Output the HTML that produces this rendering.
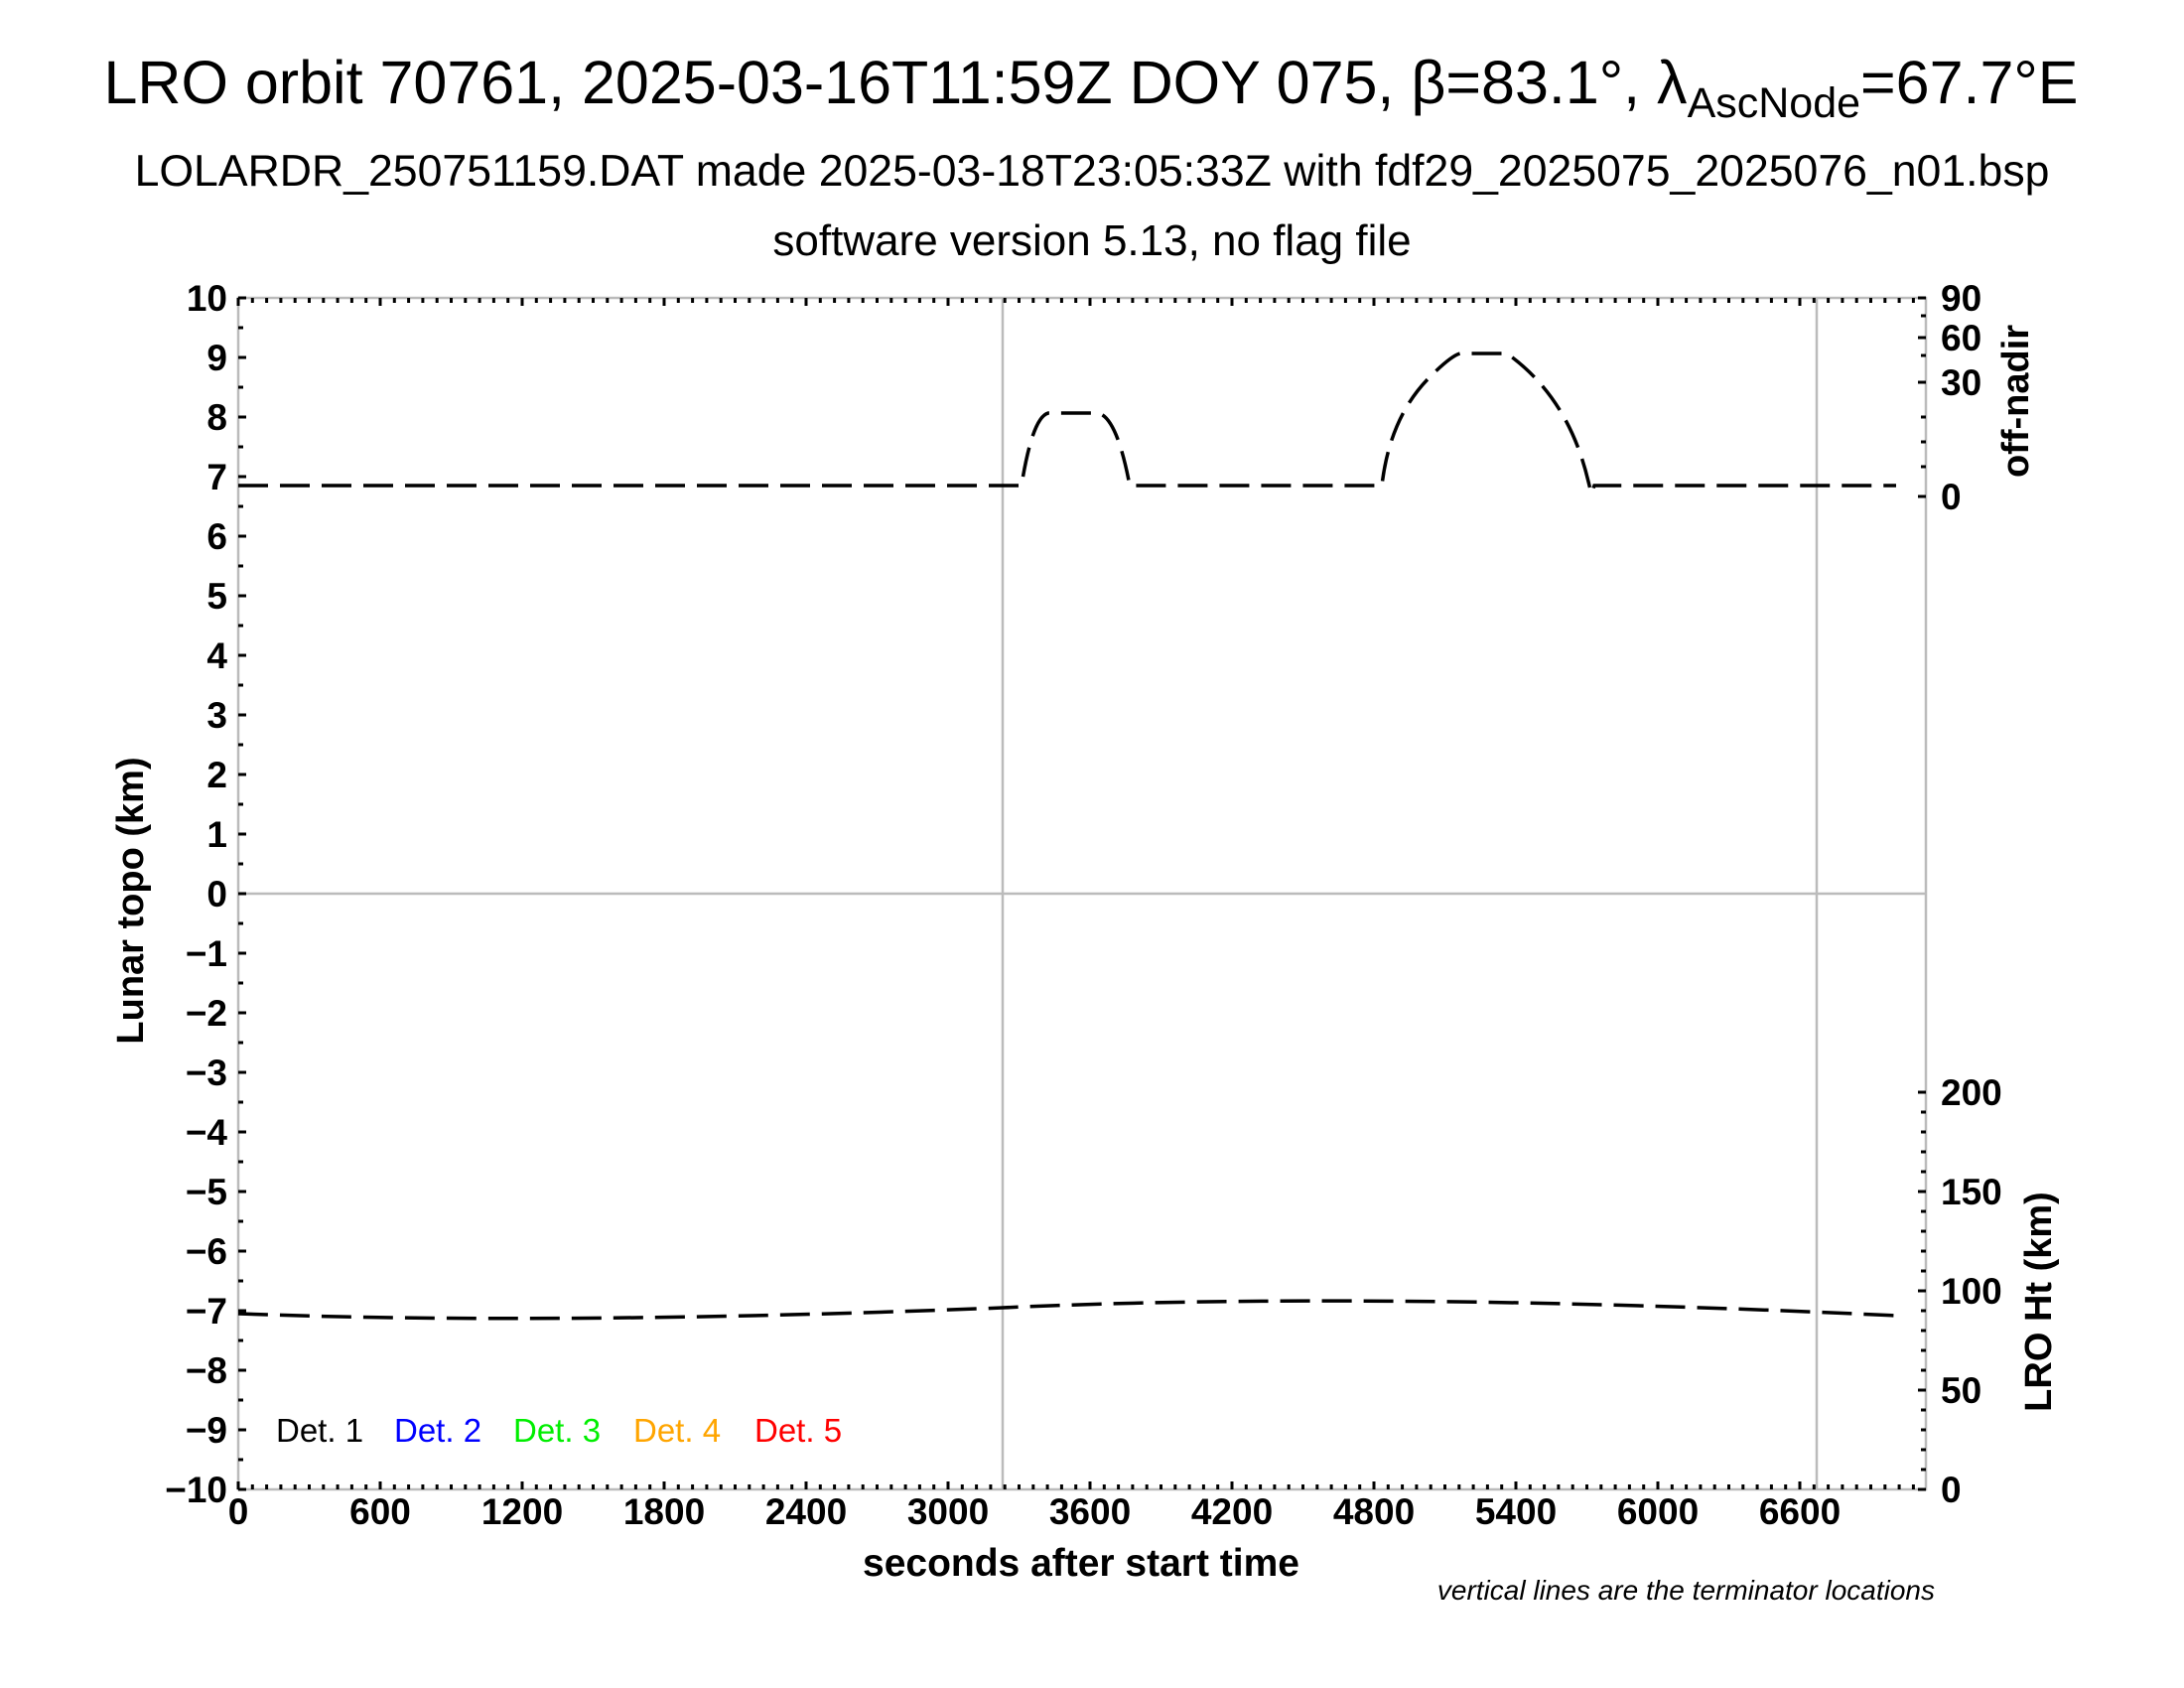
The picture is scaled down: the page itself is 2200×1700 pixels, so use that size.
<!DOCTYPE html>
<html><head><meta charset="utf-8"><style>
html,body{margin:0;padding:0;background:#fff;}
svg{display:block;}
text{font-family:"Liberation Sans",Arial,sans-serif;}
.b{font-weight:bold;}
</style></head><body>
<svg id="s" width="2200" height="1700" viewBox="0 0 2200 1700" xmlns="http://www.w3.org/2000/svg">
<rect width="2200" height="1700" fill="#fff"/>
<text x="1099" y="104" font-size="61" text-anchor="middle">LRO orbit 70761, 2025-03-16T11:59Z DOY 075, β=83.1°, λ<tspan font-size="43" dy="14">AscNode</tspan><tspan dy="-14">=67.7°E</tspan></text>
<text x="1100" y="187" font-size="44.6" text-anchor="middle">LOLARDR_250751159.DAT made 2025-03-18T23:05:33Z with fdf29_2025075_2025076_n01.bsp</text>
<text x="1100" y="257" font-size="44" text-anchor="middle">software version 5.13, no flag file</text>
<g stroke="#bbb" stroke-width="2.5" fill="none">
<rect x="240" y="300" width="1700" height="1200"/>
<line x1="1010" y1="300" x2="1010" y2="1500"/>
<line x1="1830" y1="300" x2="1830" y2="1500"/>
<line x1="240" y1="900" x2="1940" y2="900"/>
</g>
<g id="ticks" stroke="#000" stroke-width="3"></g>
<g id="labels" class="b" font-size="37"></g>
<g fill="none" stroke="#000" stroke-width="3.5" stroke-dasharray="30,12">
<path d="M240,489 L1029,489 Q1040,420 1056,416 L1106,416 Q1125,420 1138,489 L1392,489 Q1400,420 1440,380 Q1462,358 1471,356 L1518,356 Q1580,400 1600,485 L1603,497 L1606,489 L1910,489"/>
<path d="M240,1323 Q560,1335 1010,1317 Q1381,1300 1911,1325"/>
</g>
<text class="b" x="1089" y="1587" font-size="39" text-anchor="middle">seconds after start time</text>
<text class="b" font-size="38" text-anchor="middle" transform="translate(144,907) rotate(-90)">Lunar topo (km)</text>
<text class="b" font-size="38" text-anchor="middle" transform="translate(2043,404) rotate(-90)">off-nadir</text>
<text class="b" font-size="38" text-anchor="middle" transform="translate(2066,1311) rotate(-90)">LRO Ht (km)</text>
<text x="1949" y="1611" font-size="28" font-style="italic" text-anchor="end">vertical lines are the terminator locations</text>
<g font-size="33">
<text x="278" y="1452" fill="#000">Det. 1</text>
<text x="397" y="1452" fill="#0000ff">Det. 2</text>
<text x="517" y="1452" fill="#00ee00">Det. 3</text>
<text x="638" y="1452" fill="#ffa500">Det. 4</text>
<text x="760" y="1452" fill="#ff0000">Det. 5</text>
</g>
</svg>
<script>
var NS="http://www.w3.org/2000/svg";
var T=document.getElementById("ticks"),L=document.getElementById("labels");
function ln(x1,y1,x2,y2){var e=document.createElementNS(NS,"line");e.setAttribute("x1",x1);e.setAttribute("y1",y1);e.setAttribute("x2",x2);e.setAttribute("y2",y2);T.appendChild(e);}
function tx(x,y,s,a){var e=document.createElementNS(NS,"text");e.setAttribute("x",x);e.setAttribute("y",y);e.setAttribute("text-anchor",a);e.textContent=s;L.appendChild(e);}
var k=143/600;
for(var s=0;s<=7133;s+=60){var x=240+s*k;var maj=s%600==0;var l=maj?8:5;
ln(x,1500,x,1500-l);ln(x,300,x,300+l);
if(maj)tx(x,1535,String(s),"middle");}
for(var v=-10;v<=10;v+=0.5){var y=300+(10-v)*60;var maj=Math.abs(v%1)<1e-9;var l=maj?8:5;
ln(240,y,240+l,y);
if(maj)tx(229,y+13,(v<0?"\u2212":"")+Math.abs(v),"end");}
for(var h=0;h<=200;h+=10){var y=1500-h*2;var maj=h%50==0;ln(1940,y,1940-(maj?8:5),y);if(maj)tx(1955,y+13,String(h),"start");}
var on=[[90,300],[60,340],[30,385],[0,500]];
on.forEach(function(p){ln(1940,p[1],1932,p[1]);tx(1955,p[1]+13,String(p[0]),"start");});
[318,358,420,445,470].forEach(function(y){ln(1940,y,1935,y);});
</script>
</body></html>
